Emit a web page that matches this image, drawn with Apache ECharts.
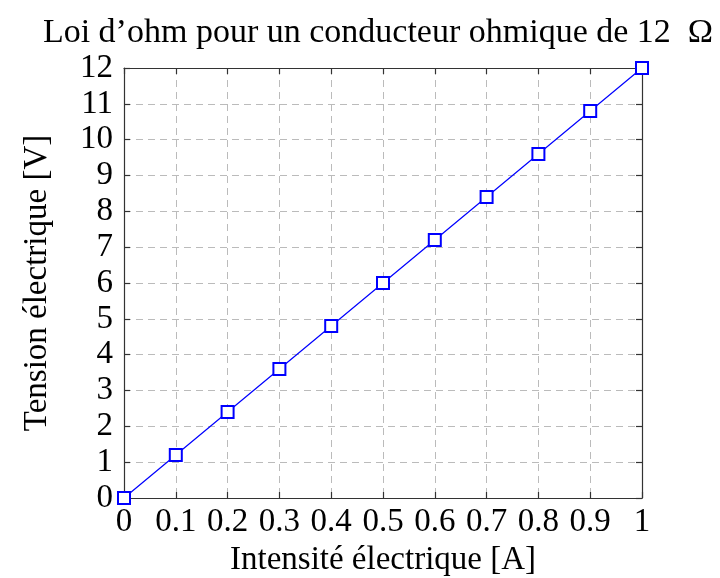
<!DOCTYPE html>
<html>
<head>
<meta charset="utf-8">
<script src="https://cdn.jsdelivr.net/npm/echarts@6/dist/echarts.min.js"></script>
<style>
  html, body { margin: 0; padding: 0; background: #fff; }
  #chart { width: 720px; height: 578px; }
</style>
</head>
<body>
<div id="chart"></div>
<script>
// Measured current (A) and voltage (V) across a 12 ohm resistor
const intensite = [0, 0.1, 0.2, 0.3, 0.4, 0.5, 0.6, 0.7, 0.8, 0.9, 1];
const tension = [0, 1.2, 2.4, 3.6, 4.8, 6, 7.2, 8.4, 9.6, 10.8, 12];

const titre = "Loi d\u2019ohm pour un conducteur ohmique de 12  \u03A9";
const nomX = "Intensit\u00e9 \u00e9lectrique [A]";
const nomY = "Tension \u00e9lectrique [V]";

const FONT = "'Liberation Serif', 'DejaVu Serif', serif";
const FS = 33;
const AXIS_COLOR = '#333';

const fmt = v => String(Math.round(v * 10) / 10);

const chart = echarts.init(document.getElementById('chart'), null, { renderer: 'canvas' });

const frameAxis = {
  axisLine: { show: true, onZero: false, lineStyle: { color: AXIS_COLOR, width: 1.2 } },
  axisTick: { show: true, inside: true, length: 6, lineStyle: { color: AXIS_COLOR, width: 1.2 } },
  axisLabel: { show: false },
  splitLine: { show: false }
};

chart.setOption({
  animation: false,
  backgroundColor: '#fff',
  title: {
    text: titre,
    left: 373,
    textAlign: 'center',
    top: 11,
    textStyle: { fontFamily: FONT, fontWeight: 'normal', fontSize: 34, color: '#000' }
  },
  grid: { left: 124, right: 78, top: 68, bottom: 80, containLabel: false, outerBoundsMode: 'none' },
  xAxis: [
    {
      type: 'value', min: 0, max: 1, interval: 0.1,
      name: nomX, nameLocation: 'middle', nameGap: 36,
      nameTextStyle: { fontFamily: FONT, fontSize: FS, color: '#000' },
      axisLine: { show: true, onZero: false, lineStyle: { color: AXIS_COLOR, width: 1.2 } },
      axisTick: { show: true, inside: true, length: 6, lineStyle: { color: AXIS_COLOR, width: 1.2 } },
      axisLabel: { formatter: fmt, fontFamily: FONT, fontSize: FS, color: '#000', margin: 8 },
      splitLine: { show: true, lineStyle: { color: '#bbb', type: [7, 5], width: 1 } }
    },
    Object.assign({ type: 'value', position: 'top', min: 0, max: 1, interval: 0.1 }, frameAxis)
  ],
  yAxis: [
    {
      type: 'value', min: 0, max: 12, interval: 1,
      name: nomY, nameLocation: 'middle', nameGap: 70, nameRotate: 90,
      nameTextStyle: { fontFamily: FONT, fontSize: FS, color: '#000' },
      axisLine: { show: true, onZero: false, lineStyle: { color: AXIS_COLOR, width: 1.2 } },
      axisTick: { show: true, inside: true, length: 6, lineStyle: { color: AXIS_COLOR, width: 1.2 } },
      axisLabel: { fontFamily: FONT, fontSize: FS, color: '#000', margin: 11 },
      splitLine: { show: true, lineStyle: { color: '#bbb', type: [7, 5], width: 1 } }
    },
    Object.assign({ type: 'value', position: 'right', min: 0, max: 12, interval: 1 }, frameAxis)
  ],
  series: [{
    type: 'line',
    data: intensite.map((x, i) => [x, tension[i]]),
    symbol: 'emptyRect',
    symbolSize: 12,
    showAllSymbol: true,
    lineStyle: { color: '#0000ff', width: 1.2 },
    itemStyle: { color: '#0000ff', borderColor: '#0000ff', borderWidth: 1.3 },
    clip: false,
    z: 5
  }]
});
</script>
</body>
</html>
